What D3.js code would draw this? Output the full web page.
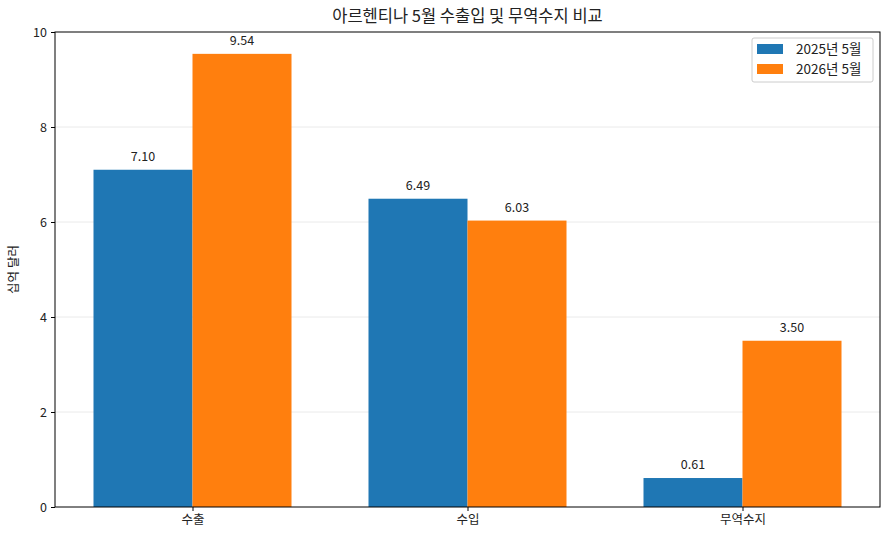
<!DOCTYPE html>
<html>
<head>
<meta charset="utf-8">
<script src="https://cdn.jsdelivr.net/npm/d3@7"></script>
<style>
body { margin: 0; background: #fff; }
text { font-family: "Noto Sans CJK KR", "Noto Sans", sans-serif; fill: #222; }
</style>
</head>
<body>
<div id="chart"></div>
<script>
var categories = ["수출", "수입", "무역수지"];
var series = ["2025년 5월", "2026년 5월"];
var values2025 = [7.10, 6.49, 0.61];
var values2026 = [9.54, 6.03, 3.50];
var yTicks = [0, 2, 4, 6, 8, 10];
var colors = ["#1f77b4", "#ff7f0e"];

var width = 889, height = 540;
var margin = {left: 55, right: 9, top: 32, bottom: 33};
var BARW = 0.36;

var svg = d3.select("#chart").append("svg")
    .attr("width", width)
    .attr("height", height);

var x = d3.scaleLinear().domain([-0.5, 2.5]).range([margin.left, width - margin.right]);
var y = d3.scaleLinear().domain([0, 10]).range([height - margin.bottom, margin.top]);

// grid
svg.append("g").selectAll("line")
    .data(yTicks.slice(1, -1))
    .enter().append("line")
    .attr("x1", margin.left).attr("x2", width - margin.right)
    .attr("y1", function(d){ return y(d); })
    .attr("y2", function(d){ return y(d); })
    .attr("stroke", "#e4e4e4").attr("stroke-width", 0.8);

var data = [values2025, values2026];
data.forEach(function(vals, s){
    var off = s == 0 ? -BARW / 2 : BARW / 2;
    var g = svg.append("g");
    g.selectAll("rect").data(vals).enter().append("rect")
        .attr("x", function(d, i){ return x(i + off - BARW / 2); })
        .attr("width", x(BARW) - x(0))
        .attr("y", function(d){ return y(d); })
        .attr("height", function(d){ return y(0) - y(d); })
        .attr("fill", colors[s]);
    g.selectAll("text").data(vals).enter().append("text")
        .attr("x", function(d, i){ return x(i + off); })
        .attr("y", function(d){ return y(d) - 9; })
        .attr("text-anchor", "middle")
        .attr("font-size", 12.5)
        .text(function(d){ return d.toFixed(2); });
});

// axes
var xAxis = d3.axisBottom(x).tickValues([0, 1, 2])
    .tickFormat(function(d){ return categories[d]; })
    .tickSize(4).tickPadding(4);
svg.append("g")
    .attr("transform", "translate(0," + y(0) + ")")
    .call(xAxis)
    .call(function(g){ g.select(".domain").remove(); })
    .selectAll("text").attr("font-size", 12.5).style("font-family", null);

var yAxis = d3.axisLeft(y).tickValues(yTicks).tickSize(4).tickPadding(4);
svg.append("g")
    .attr("transform", "translate(" + margin.left + ",0)")
    .call(yAxis)
    .call(function(g){ g.select(".domain").remove(); })
    .selectAll("text").attr("font-size", 12.5).style("font-family", null);

svg.selectAll(".tick line").attr("stroke", "#000");

// frame
svg.append("rect")
    .attr("x", margin.left).attr("y", margin.top)
    .attr("width", width - margin.left - margin.right)
    .attr("height", height - margin.top - margin.bottom)
    .attr("fill", "none").attr("stroke", "#000").attr("stroke-width", 1);

// title + y label
svg.append("text")
    .attr("x", (margin.left + width - margin.right) / 2)
    .attr("y", 22)
    .attr("text-anchor", "middle")
    .attr("font-size", 16.5)
    .text("아르헨티나 5월 수출입 및 무역수지 비교");

svg.append("text")
    .attr("transform", "translate(18," + (margin.top + height - margin.bottom) / 2 + ") rotate(-90)")
    .attr("text-anchor", "middle")
    .attr("font-size", 12.5)
    .text("십억 달러");

// legend
var lg = svg.append("g").attr("transform", "translate(752,38)");
lg.append("rect").attr("width", 121).attr("height", 44).attr("rx", 2)
    .attr("fill", "#fff").attr("stroke", "#ccc");
series.forEach(function(s, i){
    lg.append("rect").attr("x", 5).attr("y", 6 + i * 20).attr("width", 26).attr("height", 10)
        .attr("fill", colors[i]);
    lg.append("text").attr("x", 44).attr("y", 16 + i * 20)
        .attr("font-size", 13.5).text(s);
});
</script>
</body>
</html>
